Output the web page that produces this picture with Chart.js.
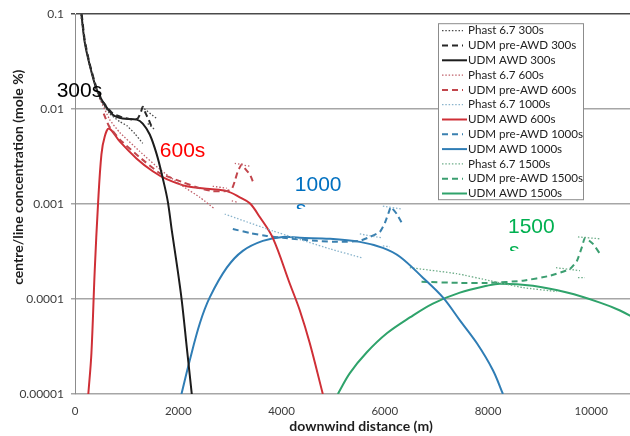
<!DOCTYPE html>
<html>
<head>
<meta charset="utf-8">
<script src="https://cdn.jsdelivr.net/npm/chart.js@4/dist/chart.umd.min.js"></script>
<style>
  html, body { margin: 0; padding: 0; background: #fff; }
  #wrap { width: 630px; height: 436px; }
</style>
</head>
<body>
<div id="wrap"><canvas id="concChart" width="630" height="436"></canvas></div>
<script>
// Axis ticks
const xTicks = [0, 2000, 4000, 6000, 8000, 10000];
const xTickLabels = ["0", "2000", "4000", "6000", "8000", "10000"];
const yTicks = [0.00001, 0.0001, 0.001, 0.01, 0.1];
const yTickLabels = ["0.00001", "0.0001", "0.001", "0.01", "0.1"];

// 300 s
const phast300X = [110, 188, 285, 382, 479, 672, 866, 1002, 1157, 1312, null, 1293, 1583, null, 1409, 1545];
const phast300Y = [0.1, 0.0509, 0.0285, 0.0185, 0.0129, 0.00897, 0.00739, 0.00671, 0.00553, 0.00436, null, 0.0106, 0.00796, null, 0.00705, 0.0061];
const pre300X = [130, 188, 285, 421, 537, 731, 924, 1118, 1215, 1273, 1312, 1370, 1428, 1506];
const pre300Y = [0.1, 0.0534, 0.0299, 0.0164, 0.012, 0.00897, 0.00815, 0.00776, 0.00796, 0.00919, 0.0106, 0.00897, 0.00776, 0.0061];
const awd300X = [124, 188, 285, 415, 537, 731, 924, 1196, 1312, 1448, 1583, 1700, 1797, 1876, 1971, 2068, 2165, 2262];
const awd300Y = [0.1, 0.0509, 0.0292, 0.0164, 0.012, 0.00875, 0.00796, 0.00776, 0.00705, 0.00541, 0.00334, 0.00187, 0.00107, 0.000522, 0.000235, 0.0000964, 0.000031, 0.00001];

// 600 s
const phast600X = [479, 672, 866, 1254, 1641, 2029, 2417, 2707, null, 2668, 2940, null, 3095, 3386, null, 3037, 3134];
const phast600Y = [0.0129, 0.00776, 0.00568, 0.00359, 0.00233, 0.00162, 0.00118, 0.000887, null, 0.00154, 0.00147, null, 0.00269, 0.0025, null, 0.00108, 0.00105];
const pre600X = [556, 653, 866, 1254, 1641, 2087, 2417, 2668, 2940, 3037, 3095, 3153, 3231, 3289, 3386, 3444];
const pre600Y = [0.00897, 0.00671, 0.0048, 0.00311, 0.00212, 0.0017, 0.00147, 0.00137, 0.00137, 0.00144, 0.00174, 0.00222, 0.00262, 0.00238, 0.00206, 0.00174];
const awd600X = [258, 318, 382, 446, 512, 576, 659, 866, 1190, 1506, 1777, 2165, 2610, 2940, 3192, 3386, 3579, 3831, 4161, 4355, 4548, 4800];
const awd600Y = [0.00001, 0.0000269, 0.000199, 0.001, 0.00334, 0.00515, 0.00625, 0.00457, 0.00303, 0.00222, 0.00183, 0.00154, 0.00144, 0.00137, 0.00118, 0.00102, 0.000731, 0.000441, 0.000145, 0.0000758, 0.0000342, 0.00001];

// 1000 s
const phast1000X = [2900, 3831, 4936, 5556, null, 5517, 5944, null, 5963, 6331, null, 5963, 6099];
const phast1000Y = [0.000785, 0.000522, 0.000338, 0.000272, null, 0.000485, 0.000441, null, 0.000953, 0.000887, null, 0.000363, 0.000355];
const pre1000X = [3057, 3386, 3715, 4025, 4684, 5130, 5517, 5711, 5905, 6002, 6079, 6118, 6234, 6351];
const pre1000Y = [0.000547, 0.000496, 0.000462, 0.000441, 0.00041, 0.0004, 0.00041, 0.000451, 0.000509, 0.000633, 0.000824, 0.000931, 0.000785, 0.000603];
const awd1000X = [2062, 2223, 2417, 2610, 2940, 3250, 3638, 4025, 4355, 4936, 5517, 5963, 6293, 6738, 7126, 7455, 7785, 8095, 8289];
const awd1000Y = [0.00001, 0.0000227, 0.0000553, 0.000104, 0.000214, 0.000322, 0.00041, 0.000451, 0.000441, 0.000431, 0.0004, 0.000346, 0.000279, 0.000168, 0.000104, 0.0000596, 0.0000342, 0.0000178, 0.00001];

// 1500 s
const phast1500X = [6486, 7397, 8037, 8676, 9335, null, 9316, 9781, null, 9742, 10169, null, 9742, 9878];
const phast1500Y = [0.000214, 0.000185, 0.000156, 0.000132, 0.00012, null, 0.000214, 0.000199, null, 0.000451, 0.000431, null, 0.000168, 0.000168];
const pre1500X = [6712, 7455, 8037, 8676, 9200, 9587, 9723, 9820, 9878, 10033, 10169];
const pre1500Y = [0.000152, 0.000148, 0.000148, 0.000156, 0.000176, 0.000208, 0.000253, 0.000355, 0.000441, 0.000381, 0.000299];
const awd1500X = [5091, 5324, 5653, 6041, 6486, 6932, 7455, 7978, 8231, 8870, 9529, 10169, 10556, 11000];
const awd1500Y = [0.00001, 0.0000166, 0.0000275, 0.0000436, 0.000064, 0.0000897, 0.000117, 0.000138, 0.000145, 0.000138, 0.000117, 0.0000918, 0.0000758, 0.000056];

// Time labels placed on the plot, anchored in data coordinates
const timeLabels = [
  { text: "300s", x: -355, y: 0.0135, color: "#000000" },
  { text: "600s", x: 1643, y: 0.0031, color: "#ff0000" },
  { text: "1000", x: 4258, y: 0.00137, color: "#0070c0", cut: "s" },
  { text: "1500", x: 8386, y: 0.000497, color: "#00b050", cut: "s" }
];

const FONT = "Lato, 'Open Sans', sans-serif";

function toPoints(xs, ys) {
  let lastX = 0;
  return xs.map((x, i) => {
    if (x === null || ys[i] === null) {
      return { x: lastX, y: null };
    }
    lastX = x;
    return { x: x, y: ys[i] };
  });
}

function series(label, xs, ys, color, kind) {
  const styles = {
    dot: { borderWidth: 1.3, borderDash: [1.5, 1.8] },
    dash: { borderWidth: 2, borderDash: [6, 4] },
    solid: { borderWidth: 2, borderDash: [] }
  };
  return {
    label,
    data: toPoints(xs, ys),
    borderColor: color,
    backgroundColor: color,
    borderWidth: styles[kind].borderWidth,
    borderDash: styles[kind].borderDash,
    pointRadius: 0,
    tension: kind === "solid" ? 0.35 : 0.15,
    spanGaps: false,
    fill: false
  };
}

const datasets = [
  series("Phast 6.7 300s", phast300X, phast300Y, "#4a4a4a", "dot"),
  series("UDM pre-AWD 300s", pre300X, pre300Y, "#262626", "dash"),
  series("UDM AWD 300s", awd300X, awd300Y, "#1c1c1c", "solid"),
  series("Phast 6.7 600s", phast600X, phast600Y, "#c0606a", "dot"),
  series("UDM pre-AWD 600s", pre600X, pre600Y, "#c2454c", "dash"),
  series("Phast 6.7 1000s", phast1000X, phast1000Y, "#8ab4cc", "dot"),
  series("UDM AWD 600s", awd600X, awd600Y, "#cf2f36", "solid"),
  series("UDM pre-AWD 1000s", pre1000X, pre1000Y, "#3a80b0", "dash"),
  series("UDM AWD 1000s", awd1000X, awd1000Y, "#2f7db5", "solid"),
  series("Phast 6.7 1500s", phast1500X, phast1500Y, "#6fae8a", "dot"),
  series("UDM pre-AWD 1500s", pre1500X, pre1500Y, "#3b9e70", "dash"),
  series("UDM AWD 1500s", awd1500X, awd1500Y, "#2fa36b", "solid")
];

// Draws the time labels, the boxed legend and both axis titles
const overlayPlugin = {
  id: "overlay",
  afterDatasetsDraw(chart) {
    const ctx = chart.ctx;
    const xs = chart.scales.x;
    const ys = chart.scales.y;
    ctx.save();
    ctx.font = "21px 'Liberation Sans', Arial, sans-serif";
    ctx.textBaseline = "alphabetic";
    ctx.textAlign = "left";
    timeLabels.forEach((lab) => {
      const px = xs.getPixelForValue(lab.x);
      const py = ys.getPixelForValue(lab.y);
      ctx.fillStyle = lab.color;
      ctx.fillText(lab.text, px, py);
      if (lab.cut) {
        // second line of the label box is cut off just below its top
        ctx.save();
        ctx.beginPath();
        ctx.rect(px - 2, py + 10, 30, 8);
        ctx.clip();
        ctx.fillText(lab.cut, px + 1, py + 24);
        ctx.restore();
      }
    });
    ctx.restore();
  },
  afterDraw(chart) {
    const ctx = chart.ctx;
    const area = chart.chartArea;
    ctx.save();

    // legend box
    const left = area.right - 192;
    const top = area.top + 9;
    const w = 145;
    const h = 176;
    ctx.fillStyle = "#ffffff";
    ctx.fillRect(left, top, w, h);
    ctx.strokeStyle = "#8c8c8c";
    ctx.lineWidth = 1;
    ctx.setLineDash([]);
    ctx.strokeRect(left + 0.5, top + 0.5, w, h);

    ctx.font = "11.6px " + FONT;
    ctx.textBaseline = "middle";
    ctx.textAlign = "left";
    chart.data.datasets.forEach((ds, i) => {
      const cy = top + 7.5 + i * 14.8;
      const solid = ds.borderDash.length === 0;
      ctx.beginPath();
      ctx.strokeStyle = ds.borderColor;
      ctx.lineWidth = ds.borderWidth;
      ctx.setLineDash(ds.borderDash);
      ctx.moveTo(left + 4, cy);
      ctx.lineTo(left + (solid ? 29 : 25), cy);
      ctx.stroke();
      ctx.fillStyle = "#222222";
      ctx.fillText(ds.label, left + 30, cy);
    });

    // axis titles
    ctx.setLineDash([]);
    ctx.fillStyle = "#1e1e1e";
    ctx.font = "bold 14px " + FONT;
    ctx.textAlign = "center";
    ctx.textBaseline = "middle";
    ctx.fillText("downwind distance (m)", area.left + 286, area.bottom + 32);
    ctx.translate(18, area.top + 163);
    ctx.rotate(-Math.PI / 2);
    ctx.fillText("centre/line concentration (mole %)", 0, 0);
    ctx.restore();
  }
};

new Chart(document.getElementById("concChart"), {
  type: "line",
  data: { datasets },
  options: {
    responsive: false,
    animation: false,
    devicePixelRatio: 1,
    layout: { padding: { top: 12, right: 0, left: 0, bottom: 0 } },
    plugins: {
      legend: { display: false },
      tooltip: { enabled: false }
    },
    scales: {
      x: {
        type: "linear",
        min: 0,
        max: 10750,
        afterBuildTicks: (scale) => {
          scale.ticks = xTicks.map((v) => ({ value: v }));
        },
        afterFit: (scale) => {
          scale.height = 42;
        },
        grid: { display: false, drawTicks: false },
        border: { display: false },
        ticks: {
          color: "#3c3c3c",
          font: { family: FONT, size: 11.5 },
          padding: 10,
          maxRotation: 0,
          autoSkip: false,
          callback: (value, index) => xTickLabels[index]
        }
      },
      y: {
        type: "logarithmic",
        min: 0.00001,
        max: 0.1,
        afterBuildTicks: (scale) => {
          scale.ticks = yTicks.map((v) => ({ value: v }));
        },
        afterFit: (scale) => {
          scale.width = 75;
        },
        grid: {
          color: (c) => (c.tick && c.tick.value === 0.1 ? "#4a4a4a" : "#a6a6a6"),
          lineWidth: 1.5,
          tickLength: 4,
          drawTicks: true
        },
        border: { display: true, color: "#8c8c8c", width: 1 },
        ticks: {
          color: "#3c3c3c",
          font: { family: FONT, size: 12 },
          padding: 7,
          autoSkip: false,
          callback: (value, index) => yTickLabels[index]
        }
      }
    }
  },
  plugins: [overlayPlugin]
});
</script>
</body>
</html>
